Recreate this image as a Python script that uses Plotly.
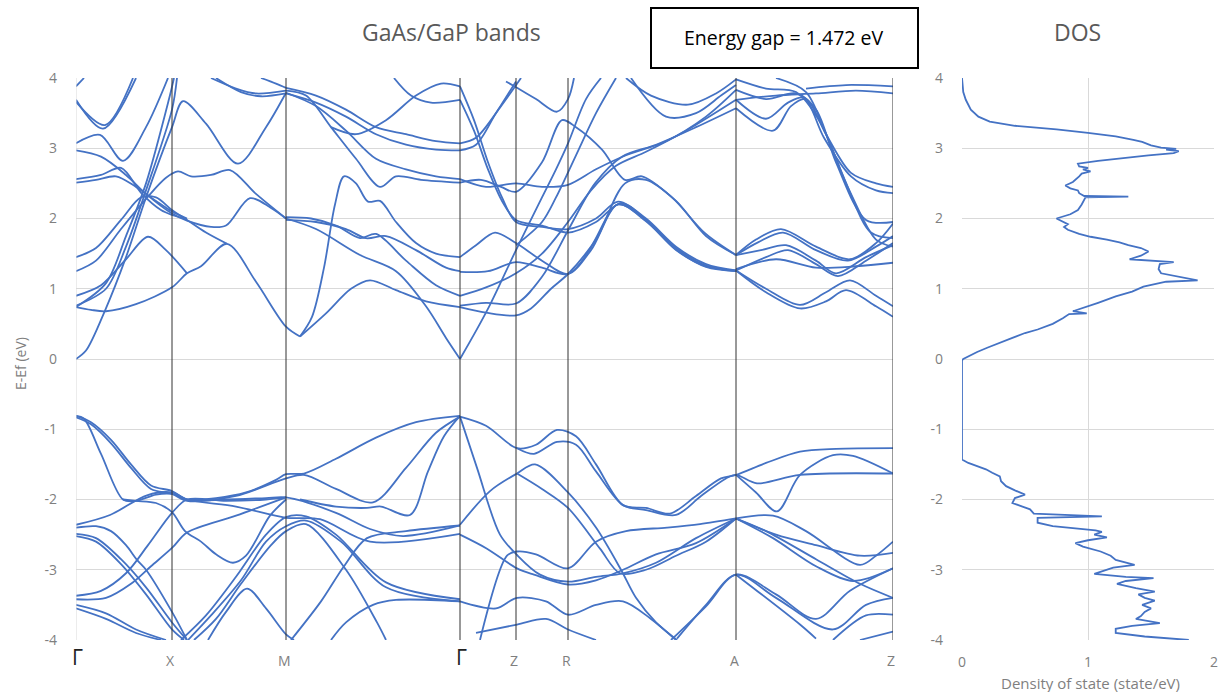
import plotly.graph_objects as go

# ---------------- data ----------------
kpoint_pos = [0, 96, 210, 384, 440, 492, 660, 817]
kpoint_labels = ["Γ", "X", "M", "Γ", "Z", "R", "A", "Z"]
energy_ticks = [4, 3, 2, 1, 0, -1, -2, -3, -4]
dos_ticks = [0, 1, 2]
energy_gap = 1.472

# conduction band branches: (k along path, E - Ef in eV)
conduction_curves = [
    ([0, 10, 29, 50, 70, 96, 107, 130, 162, 190, 210], [0, 0.12, 0.69, 1.45, 2.3, 3.3, 3.67, 3.35, 2.78, 3.3, 3.79]),
    ([0, 15, 30, 60, 96, 111, 125, 151, 180, 210, 224], [0.74, 0.7, 0.68, 0.78, 1.02, 1.22, 1.32, 1.64, 1.1, 0.46, 0.32]),
    ([0, 25, 50, 72, 90, 111], [0.9, 1.05, 1.42, 1.74, 1.55, 1.22]),
    ([0, 30, 50, 70, 96, 101], [0.76, 1.0, 1.6, 2.4, 3.55, 4.0]),
    ([0, 30, 50, 70, 93, 98], [0.74, 1.08, 1.75, 2.5, 3.7, 4.0]),
    ([0, 20, 45, 65, 80, 96, 111, 130, 151], [1.45, 1.58, 1.98, 2.3, 2.3, 2.12, 1.98, 1.8, 1.64]),
    ([0, 20, 45, 70, 90, 102, 115, 135, 154, 180, 210], [1.25, 1.4, 1.85, 2.28, 2.58, 2.67, 2.6, 2.62, 2.69, 2.35, 2.0]),
    ([0, 25, 50, 70, 96, 111, 135, 150, 174, 195, 210], [2.97, 2.88, 2.62, 2.35, 2.07, 1.97, 1.88, 1.9, 2.29, 2.15, 2.0]),
    ([0, 25, 45, 66, 85, 96, 111], [2.56, 2.62, 2.72, 2.35, 2.12, 2.05, 1.99]),
    ([0, 20, 40, 60, 80, 96, 111], [2.51, 2.55, 2.6, 2.45, 2.25, 2.1, 2.0]),
    ([0, 24, 47, 70, 92], [3.07, 3.19, 2.82, 3.3, 4.0]),
    ([0, 27, 60], [3.69, 3.28, 4.0]),
    ([0, 29, 57], [3.66, 3.33, 4.0]),
    ([0, 8], [3.88, 4.0]),
    ([135, 160, 180, 210], [4.0, 3.85, 3.78, 3.82]),
    ([140, 165, 185, 210], [4.0, 3.8, 3.74, 3.78]),
    ([185, 200, 210], [4.0, 3.92, 3.86]),
    ([224, 236, 248, 259, 268, 280, 292, 304, 320, 340, 360, 384], [0.32, 0.6, 1.3, 2.2, 2.6, 2.5, 2.24, 2.25, 1.95, 1.65, 1.5, 1.45]),
    ([224, 250, 275, 294, 320, 350, 384], [0.32, 0.65, 1.0, 1.12, 0.98, 0.82, 0.74]),
    ([210, 240, 284, 320, 350, 370, 384], [2.0, 1.85, 1.48, 1.25, 0.75, 0.3, 0]),
    ([210, 235, 260, 284, 300, 330, 360, 384], [2.02, 2.0, 1.9, 1.72, 1.78, 1.4, 1.05, 0.9]),
    ([210, 240, 270, 290, 310, 340, 370, 384], [1.98, 1.95, 1.85, 1.72, 1.75, 1.55, 1.3, 1.25]),
    ([210, 230, 255, 280, 304, 320, 345, 384], [3.82, 3.75, 3.3, 2.85, 2.45, 2.6, 2.55, 2.51]),
    ([210, 240, 270, 300, 330, 360, 384], [3.79, 3.6, 3.25, 2.85, 2.7, 2.6, 2.56]),
    ([210, 240, 270, 300, 330, 360, 384], [3.78, 3.65, 3.45, 3.2, 3.05, 2.98, 2.97]),
    ([210, 240, 270, 300, 330, 360, 384], [3.86, 3.75, 3.55, 3.3, 3.2, 3.1, 3.07]),
    ([318, 335, 355, 384], [4.0, 3.75, 3.65, 3.69]),
    ([255, 280, 310, 340, 365, 384], [3.3, 3.2, 3.4, 3.75, 3.92, 3.88]),
    ([384, 398, 412, 426, 440, 466, 492, 520, 542, 570, 600, 630, 660], [3.88, 3.4, 2.8, 2.3, 1.95, 1.88, 1.85, 2.0, 2.24, 2.0, 1.6, 1.35, 1.26]),
    ([384, 398, 412, 426, 440, 466, 492, 520, 545, 570, 600, 630, 660], [3.69, 3.25, 2.7, 2.25, 1.98, 1.9, 1.8, 1.95, 2.22, 1.98, 1.58, 1.33, 1.25]),
    ([384, 400, 415, 440, 466, 480, 492, 510, 525], [0, 0.4, 0.8, 1.55, 2.3, 2.7, 3.07, 3.7, 4.0]),
    ([384, 410, 440, 455, 475, 492, 515, 542, 570, 600, 630, 660], [0.74, 0.66, 0.62, 0.72, 1.0, 1.21, 1.6, 2.2, 1.97, 1.55, 1.32, 1.26]),
    ([384, 410, 440, 466, 492, 519, 546, 580, 620, 660], [0.76, 0.8, 0.79, 1.17, 1.83, 2.5, 2.88, 3.05, 3.3, 3.57]),
    ([384, 410, 440, 466, 492, 515, 540, 570, 610, 660], [0.9, 1.02, 1.22, 1.5, 1.95, 2.4, 2.75, 2.95, 3.25, 3.69]),
    ([384, 400, 419, 440, 466, 492, 515, 542, 570, 600, 630, 660], [1.45, 1.62, 1.8, 1.65, 1.4, 1.21, 1.55, 2.2, 1.96, 1.56, 1.31, 1.25]),
    ([384, 412, 440, 466, 492, 520, 549, 570, 600, 630, 660], [1.24, 1.25, 1.38, 1.3, 1.21, 1.7, 2.5, 2.55, 2.25, 1.75, 1.48]),
    ([384, 405, 425, 440, 466, 486, 500, 526, 549, 566, 596, 629, 660], [2.51, 2.55, 2.45, 2.38, 2.8, 3.4, 3.3, 2.98, 2.55, 2.6, 2.3, 1.79, 1.48]),
    ([384, 410, 440, 466, 492, 520, 550, 590, 630, 660], [2.56, 2.45, 2.5, 2.45, 2.48, 2.7, 2.9, 3.1, 3.45, 3.83]),
    ([384, 400, 420, 440], [2.97, 3.05, 3.5, 3.95]),
    ([384, 400, 425, 445], [3.07, 3.15, 3.6, 4.0]),
    ([430, 441, 460, 481, 492, 498], [3.95, 3.86, 3.7, 3.52, 3.7, 4.0]),
    ([550, 575, 612, 640, 660], [4.0, 3.75, 3.62, 3.78, 3.98]),
    ([555, 590, 620, 645, 660], [4.0, 3.45, 3.5, 3.75, 3.9]),
    ([440, 466, 480, 500, 520, 540], [1.62, 1.95, 2.3, 2.9, 3.5, 4.0]),
    ([660, 680, 705, 740, 774, 800, 817], [1.48, 1.7, 1.85, 1.6, 1.42, 1.65, 1.93]),
    ([660, 682, 707, 740, 772, 800, 817], [1.48, 1.66, 1.8, 1.55, 1.4, 1.6, 1.75]),
    ([660, 685, 710, 740, 760, 790, 817], [1.48, 1.55, 1.62, 1.4, 1.22, 1.45, 1.62]),
    ([660, 690, 712, 740, 762, 790, 817], [1.26, 1.45, 1.55, 1.35, 1.18, 1.4, 1.65]),
    ([660, 690, 724, 750, 774, 800, 817], [1.26, 1.0, 0.77, 0.95, 1.12, 0.9, 0.75]),
    ([660, 690, 724, 750, 770, 800, 817], [1.26, 0.95, 0.72, 0.82, 0.98, 0.75, 0.6]),
    ([660, 700, 740, 780, 817], [1.28, 1.42, 1.3, 1.32, 1.37]),
    ([660, 697, 715, 730, 750, 775, 800, 817], [3.57, 3.25, 3.6, 3.7, 3.2, 2.65, 2.5, 2.45]),
    ([660, 690, 712, 728, 748, 775, 800, 817], [3.69, 3.42, 3.65, 3.72, 3.15, 2.6, 2.4, 2.36]),
    ([660, 690, 720, 740, 760, 790, 817], [3.83, 3.7, 3.78, 3.55, 2.8, 1.98, 1.95]),
    ([660, 690, 720, 745, 770, 795, 817], [3.98, 3.85, 3.8, 3.35, 2.5, 1.8, 1.72]),
    ([700, 730, 750, 775, 800, 817], [4.0, 3.8, 3.2, 2.35, 1.7, 1.6]),
    ([660, 700, 740, 780, 817], [3.69, 3.75, 3.78, 3.82, 3.78]),
    ([730, 770, 817], [3.85, 3.9, 3.88]),
]

# valence band branches
valence_curves = [
    ([0, 8, 25, 47, 60, 80, 96, 111, 140, 170, 200, 210, 228, 260, 300, 340, 384],
     [-0.81, -0.85, -1.35, -2.0, -2.02, -1.93, -1.92, -2.0, -1.98, -1.9, -1.72, -1.64, -1.63, -1.42, -1.12, -0.9, -0.81]),
    ([0, 15, 35, 55, 75, 96, 111, 150, 190, 210, 260, 294, 327, 384],
     [-0.81, -0.9, -1.15, -1.5, -1.8, -1.88, -2.0, -2.0, -1.98, -1.97, -2.19, -2.42, -2.52, -2.37]),
    ([0, 15, 35, 55, 75, 96, 111, 160, 210, 228, 260, 297, 330, 360, 384],
     [-0.83, -0.93, -1.2, -1.55, -1.85, -1.92, -2.02, -1.95, -1.7, -1.65, -1.85, -2.04, -1.55, -1.05, -0.82]),
    ([0, 34, 71, 96, 111, 160, 210, 244, 294, 384], [-2.36, -2.22, -1.94, -1.9, -2.0, -2.1, -2.26, -2.28, -2.6, -2.49]),
    ([0, 20, 35, 50, 61, 70, 96, 111], [-2.4, -2.38, -2.45, -2.65, -2.86, -3.0, -3.6, -4.0]),
    ([0, 20, 45, 70, 96, 111], [-2.49, -2.55, -2.85, -3.25, -3.75, -4.0]),
    ([0, 20, 45, 70, 96, 108], [-2.52, -2.6, -2.92, -3.35, -3.85, -4.0]),
    ([0, 25, 50, 72, 96, 111, 150, 190, 210], [-3.37, -3.3, -3.05, -2.65, -2.19, -2.0, -2.02, -2.0, -1.97]),
    ([0, 30, 55, 75, 96, 111, 160, 210], [-3.42, -3.4, -3.2, -2.95, -2.69, -2.47, -2.23, -1.97]),
    ([47, 60, 80, 96, 109, 125, 140, 157, 170, 194, 210], [-2.0, -2.02, -2.05, -2.18, -2.45, -2.6, -2.78, -2.9, -2.8, -2.23, -2.0]),
    ([105, 130, 160, 190, 210, 230, 260, 310, 384], [-4.0, -3.65, -3.1, -2.5, -2.25, -2.24, -2.5, -3.18, -3.42]),
    ([112, 135, 165, 190, 210, 230, 265, 310, 384], [-4.0, -3.65, -3.15, -2.6, -2.38, -2.3, -2.6, -3.25, -3.45]),
    ([118, 140, 165, 195, 210, 230, 270, 301, 310], [-4.0, -3.7, -3.2, -2.65, -2.45, -2.35, -3.0, -3.75, -4.0]),
    ([132, 150, 171, 190, 210, 218], [-4.0, -3.6, -3.27, -3.55, -3.92, -4.0]),
    ([215, 245, 268, 291, 330, 384], [-4.0, -3.45, -2.95, -2.55, -2.45, -2.37]),
    ([255, 270, 297, 320, 384], [-4.0, -3.75, -3.5, -3.43, -3.45]),
    ([224, 260, 291, 305, 334, 352, 368, 384], [-2.0, -2.1, -2.12, -2.1, -2.22, -1.6, -1.1, -0.81]),
    ([384, 410, 441, 460, 481, 500, 520, 547, 570, 594, 620, 645, 660, 690, 724, 760, 817],
     [-0.82, -0.95, -1.27, -1.22, -1.01, -1.1, -1.5, -2.08, -2.12, -2.2, -1.95, -1.7, -1.65, -1.48, -1.32, -1.28, -1.27]),
    ([441, 458, 481, 500, 520, 547, 570, 600, 625, 650, 660, 681, 724, 817],
     [-1.27, -1.35, -1.18, -1.22, -1.6, -2.08, -2.15, -2.22, -1.95, -1.7, -1.65, -1.77, -1.65, -1.63]),
    ([384, 414, 441, 459, 492, 520, 545, 560, 580, 601], [-2.36, -1.88, -1.63, -1.5, -1.9, -2.4, -3.0, -3.4, -3.75, -4.0]),
    ([441, 466, 492, 524, 544, 570, 600, 630, 660], [-1.63, -1.85, -2.12, -2.7, -3.05, -3.0, -2.8, -2.6, -2.27]),
    ([384, 401, 424, 441, 464, 492, 520, 547, 580, 620, 660], [-0.82, -1.55, -2.5, -2.79, -3.07, -3.17, -3.1, -3.05, -2.9, -2.55, -2.27]),
    ([384, 411, 441, 458, 492, 520, 547, 580, 620, 660], [-2.5, -2.7, -2.98, -3.07, -3.21, -3.15, -3.0, -2.78, -2.62, -2.27]),
    ([404, 431, 441, 460, 492, 520, 550, 591, 624, 660], [-4.0, -2.8, -2.74, -2.78, -2.98, -2.6, -2.45, -2.4, -2.35, -2.27]),
    ([384, 420, 441, 470, 492, 520, 547, 575, 600], [-3.45, -3.55, -3.4, -3.45, -3.64, -3.5, -3.45, -3.7, -4.0]),
    ([400, 441, 470, 492, 520], [-3.9, -3.78, -3.7, -3.85, -4.0]),
    ([601, 630, 660, 700, 757, 790, 817], [-3.98, -3.5, -3.07, -3.4, -3.85, -3.5, -3.4]),
    ([595, 630, 660, 700, 740, 774, 817], [-4.0, -3.52, -3.07, -3.35, -3.7, -3.3, -2.98]),
    ([660, 724, 740], [-3.07, -3.78, -3.98]),
    ([660, 680, 701, 724, 757, 777, 817], [-1.65, -1.9, -2.17, -1.65, -1.37, -1.38, -1.63]),
    ([660, 697, 730, 784, 800, 817], [-2.27, -2.23, -2.45, -2.93, -2.8, -2.6]),
    ([660, 690, 740, 784, 817], [-2.27, -2.45, -2.85, -3.2, -3.4]),
    ([660, 697, 740, 777, 817], [-2.27, -2.55, -2.95, -3.16, -2.98]),
    ([660, 700, 740, 784, 817], [-2.27, -2.5, -2.65, -2.8, -2.76]),
    ([757, 790, 817], [-4.0, -3.65, -3.64]),
    ([784, 817], [-4.0, -3.88]),
    ([0, 30, 60, 90], [-3.5, -3.62, -3.85, -4.0]),
    ([0, 30, 60, 85], [-3.55, -3.7, -3.9, -4.0]),
]

dos_energy = [4.0, 3.8, 3.69, 3.55, 3.45, 3.38, 3.32, 3.27, 3.22, 3.17, 3.12, 3.09, 3.04, 3.01, 2.99, 2.98,
              2.96, 2.93, 2.9, 2.86, 2.82, 2.78, 2.74, 2.72, 2.7, 2.67, 2.64, 2.6, 2.52, 2.47, 2.43, 2.4,
              2.36, 2.32, 2.31, 2.3, 2.26, 2.2, 2.12, 2.06, 2.0, 1.96, 1.92, 1.88, 1.84, 1.78, 1.74, 1.7,
              1.66, 1.62, 1.58, 1.53, 1.47, 1.42, 1.4, 1.38, 1.35, 1.28, 1.22, 1.18, 1.15, 1.12, 1.1, 1.06,
              1.03, 0.96, 0.89, 0.8, 0.74, 0.68, 0.65, 0.64, 0.58, 0.5, 0.42, 0.37, 0.3, 0.22, 0.16, 0.1,
              0.05, 0.02, 0.0, -0.02, -1.43, -1.48, -1.53, -1.57, -1.62, -1.67, -1.74, -1.81, -1.87, -1.93,
              -1.98, -2.05, -2.1, -2.14, -2.2, -2.24, -2.26, -2.33, -2.38, -2.42, -2.44, -2.46, -2.5, -2.54,
              -2.58, -2.62, -2.67, -2.74, -2.8, -2.86, -2.9, -2.93, -2.97, -3.02, -3.06, -3.1, -3.12, -3.16,
              -3.2, -3.26, -3.31, -3.35, -3.4, -3.44, -3.5, -3.55, -3.6, -3.66, -3.7, -3.76, -3.8, -3.84,
              -3.9, -3.95, -4.0]
dos_value = [0.0, 0.01, 0.03, 0.07, 0.13, 0.22, 0.42, 0.75, 1.0, 1.22, 1.36, 1.43, 1.5, 1.58, 1.7, 1.62,
             1.72, 1.68, 1.48, 1.25, 1.08, 0.92, 0.93, 1.0, 0.96, 1.02, 0.95, 0.93, 0.88, 0.82, 0.86, 0.92,
             0.93, 0.97, 1.32, 0.98, 0.97, 0.95, 0.92, 0.86, 0.75, 0.8, 0.84, 0.81, 0.84, 0.93, 1.02, 1.15,
             1.25, 1.32, 1.42, 1.48, 1.42, 1.33, 1.5, 1.68, 1.57, 1.56, 1.58, 1.7, 1.77, 1.87, 1.62, 1.52,
             1.44, 1.35, 1.22, 1.08, 0.98, 0.88, 0.99, 0.85, 0.8, 0.72, 0.6, 0.5, 0.4, 0.28, 0.2, 0.12,
             0.06, 0.03, 0.01, 0.0, 0.0, 0.05, 0.12, 0.19, 0.24, 0.3, 0.31, 0.35, 0.42, 0.5,
             0.42, 0.4, 0.48, 0.54, 0.57, 1.11, 0.6, 0.6, 0.72, 0.95, 1.06, 1.11, 1.05, 1.15,
             1.0, 0.9, 0.96, 1.1, 1.18, 1.22, 1.3, 1.37, 1.2, 1.12, 1.05, 1.3, 1.52, 1.3,
             1.23, 1.38, 1.53, 1.4, 1.45, 1.53, 1.43, 1.5, 1.45, 1.42, 1.38, 1.57, 1.35, 1.22,
             1.22, 1.45, 1.8]

# ---------------- figure ----------------
BLUE = "#4472C4"
GRAY = "#7f7f7f"
GRID = "#d9d9d9"
FONT = "Open Sans"
W, H = 1224, 692
ydom = [1 - 640 / H, 1 - 78 / H]


def flatten(curves):
    xs, ys = [], []
    for k, e in curves:
        xs += list(k) + [None]
        ys += list(e) + [None]
    return xs, ys


fig = go.Figure()
for curves in (conduction_curves, valence_curves):
    xs, ys = flatten(curves)
    fig.add_trace(go.Scatter(x=xs, y=ys, mode="lines",
                             line=dict(color=BLUE, width=1.8, shape="spline", smoothing=0.9),
                             hoverinfo="skip", showlegend=False, xaxis="x", yaxis="y"))

fig.add_trace(go.Scatter(x=dos_value, y=dos_energy, mode="lines",
                         line=dict(color=BLUE, width=1.8),
                         hoverinfo="skip", showlegend=False, xaxis="x2", yaxis="y2"))

shapes = []
for i, kp in enumerate(kpoint_pos):
    shapes.append(dict(type="line", xref="x", yref="paper", x0=kp, x1=kp, y0=ydom[0], y1=ydom[1],
                       line=dict(color=GRID if i == 0 else "#333333", width=1), layer="above"))
shapes.append(dict(type="rect", xref="paper", yref="paper",
                   x0=651 / W, x1=918 / W, y0=1 - 68 / H, y1=1 - 8 / H,
                   line=dict(color="black", width=2), fillcolor="white"))

annotations = []
for kp, lab in zip(kpoint_pos, kpoint_labels):
    if lab == "Γ":
        annotations.append(dict(x=kp + 1, xref="x", y=1 - 657 / H, yref="paper", text=lab, showarrow=False,
                                xanchor="center", yanchor="middle",
                                font=dict(family=FONT, size=21, color="#222222")))
    else:
        annotations.append(dict(x=kp - 2, xref="x", y=1 - 660 / H, yref="paper", text=lab, showarrow=False,
                                xanchor="center", yanchor="middle",
                                font=dict(family=FONT, size=14, color=GRAY)))
annotations += [
    dict(x=451 / W, y=1 - 32 / H, xref="paper", yref="paper", text="GaAs/GaP bands", showarrow=False,
         xanchor="center", yanchor="middle", font=dict(family=FONT, size=23, color="#595959")),
    dict(x=1077 / W, y=1 - 32 / H, xref="paper", yref="paper", text="DOS", showarrow=False,
         xanchor="center", yanchor="middle", font=dict(family=FONT, size=23, color="#595959")),
    dict(x=784 / W, y=1 - 38 / H, xref="paper", yref="paper",
         text=f"Energy gap = {energy_gap:.3f} eV", showarrow=False, xanchor="center", yanchor="middle",
         font=dict(family=FONT, size=19.5, color="black")),
    dict(x=20 / W, y=1 - 364 / H, xref="paper", yref="paper", text="E-Ef (eV)", showarrow=False,
         textangle=-90, xanchor="center", yanchor="middle", font=dict(family=FONT, size=14, color=GRAY)),
    dict(x=1090 / W, y=1 - 683 / H, xref="paper", yref="paper", text="Density of state (state/eV)",
         showarrow=False, xanchor="center", yanchor="middle", font=dict(family=FONT, size=15, color=GRAY)),
]

fig.update_layout(
    width=W, height=H, autosize=False, margin=dict(l=0, r=0, t=0, b=0, pad=0),
    paper_bgcolor="white", plot_bgcolor="white",
    font=dict(family=FONT, color=GRAY, size=13),
    showlegend=False,
    xaxis=dict(domain=[76 / W, 893 / W], range=[0, 817], showgrid=False, zeroline=False,
               showticklabels=False, showline=False, ticks="", automargin=False),
    yaxis=dict(domain=ydom, range=[-4, 4], tickvals=energy_ticks, ticktext=[str(v) for v in energy_ticks],
               showgrid=True, gridcolor=GRID, gridwidth=1, zeroline=False, showline=False,
               ticklabelstandoff=18, tickfont=dict(family=FONT, size=14, color=GRAY), automargin=False),
    xaxis2=dict(domain=[962 / W, 1214 / W], range=[0, 2], anchor="y2", tickvals=dos_ticks,
                ticktext=[str(v) for v in dos_ticks], showgrid=True, gridcolor=GRID, zeroline=False,
                showline=False, ticklabelstandoff=12, tickfont=dict(family=FONT, size=14, color=GRAY),
                automargin=False),
    yaxis2=dict(domain=ydom, range=[-4, 4], anchor="x2", tickvals=energy_ticks,
                ticktext=[str(v) for v in energy_ticks], showgrid=True, gridcolor=GRID, zeroline=False,
                showline=False, ticklabelstandoff=18, tickfont=dict(family=FONT, size=14, color=GRAY),
                automargin=False),
    shapes=shapes,
    annotations=annotations,
)

fig.write_html(
    "out.html",
    config={"responsive": False, "displayModeBar": False},
    post_script="document.body.style.margin='0';document.body.style.padding='0';"
                "document.documentElement.style.overflow='hidden';",
)
